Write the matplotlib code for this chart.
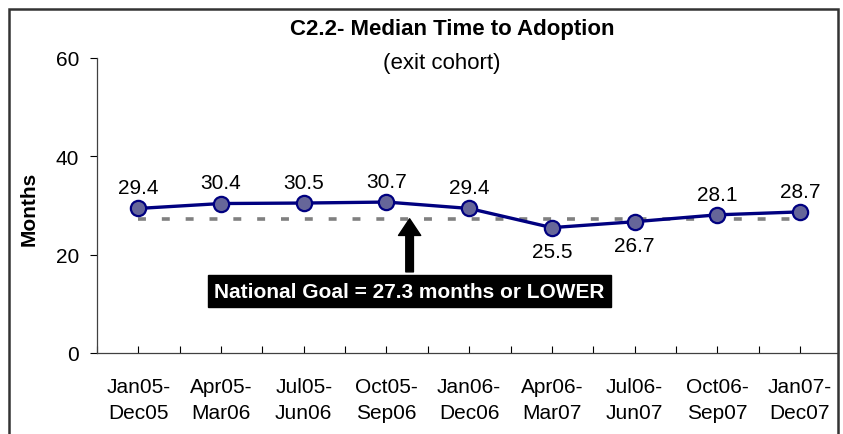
import matplotlib
matplotlib.use("Agg")
import matplotlib.pyplot as plt
from matplotlib.patches import Rectangle
from matplotlib.ticker import FixedLocator

plt.rcParams['font.family'] = ['Liberation Sans', 'DejaVu Sans']

# data
periods = ['Jan05-\nDec05', 'Apr05-\nMar06', 'Jul05-\nJun06', 'Oct05-\nSep06', 'Jan06-\nDec06',
           'Apr06-\nMar07', 'Jul06-\nJun07', 'Oct06-\nSep07', 'Jan07-\nDec07']
median_months = [29.4, 30.4, 30.5, 30.7, 29.4, 25.5, 26.7, 28.1, 28.7]
national_goal = 27.3
below_labels = [5, 6]  # points whose value label sits under the marker

W, H = 843, 435
fig = plt.figure(figsize=(W / 100, H / 100), dpi=100)
ax = fig.add_axes([97 / W, 1 - 354 / H, (838 - 97) / W, (354 - 59) / H])

x = list(range(len(periods)))

# goal line, dashed grey
ax.plot([x[0], x[-1]], [national_goal, national_goal], color='#808080', lw=2.6,
        dashes=(2.2, 4.4), dash_capstyle='butt', zorder=2)

ax.plot(x, median_months, color='#000080', lw=2.4, marker='o', markersize=11,
        markerfacecolor='#666699', markeredgecolor='#000080', markeredgewidth=1.6, zorder=3)

for i, v in enumerate(median_months):
    if i in below_labels:
        ax.annotate(f"{v:.1f}", (i, v), xytext=(0, -17), textcoords='offset points',
                    ha='center', va='center', fontsize=15)
    else:
        ax.annotate(f"{v:.1f}", (i, v), xytext=(0, 15), textcoords='offset points',
                    ha='center', va='center', fontsize=15)

# arrow + goal box
arrow_x = 3.28
ax.annotate('', xy=(arrow_x, national_goal), xytext=(arrow_x, 16.5),
            arrowprops=dict(facecolor='black', edgecolor='black', width=5.5,
                            headwidth=16, headlength=12, shrink=0), zorder=4)
ax.text(arrow_x, 12.6, 'National Goal = 27.3 months or LOWER', ha='center', va='center',
        fontsize=15, fontweight='bold', color='white', zorder=5,
        bbox=dict(boxstyle='square,pad=0.32', facecolor='black', edgecolor='black'))

ax.set_xlim(-0.5, 8.46)
ax.set_ylim(0, 60)
ax.set_yticks([0, 20, 40, 60])
ax.set_xticks(x)
ax.set_xticklabels(periods, fontsize=15, linespacing=1.5)
ax.xaxis.set_minor_locator(FixedLocator([i - 0.5 for i in range(len(periods) + 1)]))
ax.tick_params(axis='x', which='both', direction='in', length=5, pad=17, width=0.8)
ax.tick_params(axis='y', direction='out', length=5, pad=8, labelsize=15, width=0.8)

for s in ['top', 'right']:
    ax.spines[s].set_visible(False)
for s in ['left', 'bottom']:
    ax.spines[s].set_color('#404040')
    ax.spines[s].set_linewidth(0.9)

fig.text(29 / W, 1 - 209 / H, 'Months', rotation=90, ha='center', va='center',
         fontsize=15, fontweight='bold')
fig.text(452 / W, 1 - 35 / H, 'C2.2- Median Time to Adoption', ha='center', va='baseline',
         fontsize=16, fontweight='bold')
fig.text(442 / W, 1 - 69 / H, '(exit cohort)', ha='center', va='baseline', fontsize=16)

# chart border
fig.patches.append(Rectangle((9 / W, -0.05), (838 - 9) / W, 1.05 - 10 / H,
                             transform=fig.transFigure, fill=False,
                             edgecolor='#333333', lw=1.8))

fig.savefig('out.png', dpi=100)
